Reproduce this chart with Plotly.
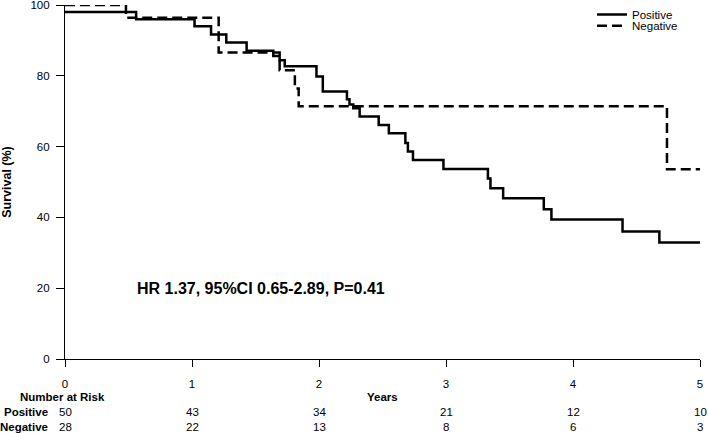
import plotly.graph_objects as go

# Kaplan-Meier step data (years, survival %)
pos_time = [0, 0.56, 1.02, 1.15, 1.27, 1.43, 1.64, 1.69, 1.73, 1.98, 2.03, 2.22, 2.24, 2.27,
            2.32, 2.47, 2.55, 2.68, 2.70, 2.74, 2.98, 3.33, 3.35, 3.45, 3.77, 3.83, 4.39, 4.68, 5.0]
pos_surv = [98, 96, 94, 91.7, 89.4, 87.1, 85.6, 84.4, 82.7, 79.8, 75.6, 73.4, 71.9, 70.8,
            68.5, 66.1, 63.8, 61.0, 58.6, 56.2, 53.7, 51.0, 48.2, 45.4, 42.3, 39.4, 36.0, 32.9, 32.9]

neg_time = [0, 0.48, 1.21, 1.69, 1.81, 1.84, 4.74, 5.0]
neg_surv = [100, 96.4, 86.6, 81.6, 76.4, 71.4, 53.6, 53.6]

risk_years = [0, 1, 2, 3, 4, 5]
risk_pos = [50, 43, 34, 21, 12, 10]
risk_neg = [28, 22, 13, 8, 6, 3]

x_ticks = [0, 1, 2, 3, 4, 5]
y_ticks = [0, 20, 40, 60, 80, 100]

hr_text = "HR 1.37, 95%CI 0.65-2.89, P=0.41"

FONT = "Liberation Sans, Arial, Helvetica, sans-serif"

fig = go.Figure()
fig.add_trace(go.Scatter(x=pos_time, y=pos_surv, mode="lines", name="Positive", legend="legend",
                         line=dict(color="black", width=2.5, shape="hv"), cliponaxis=False))
fig.add_trace(go.Scatter(x=neg_time, y=neg_surv, mode="lines", name="Negative", legend="legend2",
                         line=dict(color="black", width=2.5, shape="hv", dash="10px,5px"),
                         cliponaxis=False))

annotations = [
    dict(x=0.55, y=20, xref="x", yref="y", text="<b>" + hr_text + "</b>", showarrow=False,
         xanchor="left", yanchor="middle", font=dict(size=16, color="black", family=FONT)),
    dict(x=-0.074, y=-0.107, xref="paper", yref="paper", text="<b>Number at Risk</b>",
         showarrow=False, xanchor="left", yanchor="middle", font=dict(size=11.5, color="black", family=FONT)),
    dict(x=2.5, y=-0.107, xref="x", yref="paper", text="<b>Years</b>", showarrow=False,
         xanchor="center", yanchor="middle", font=dict(size=11.5, color="black", family=FONT)),
    dict(x=-0.0236, y=-0.150, xref="paper", yref="paper", text="<b>Positive</b>", showarrow=False,
         xanchor="right", yanchor="middle", font=dict(size=11.5, color="black", family=FONT)),
    dict(x=-0.0236, y=-0.192, xref="paper", yref="paper", text="<b>Negative</b>", showarrow=False,
         xanchor="right", yanchor="middle", font=dict(size=11.5, color="black", family=FONT)),
]
for yr, p, n in zip(risk_years, risk_pos, risk_neg):
    annotations.append(dict(x=yr, y=-0.150, xref="x", yref="paper", text=str(p), showarrow=False,
                            xanchor="center", yanchor="middle",
                            font=dict(size=11.5, color="black", family=FONT)))
    annotations.append(dict(x=yr, y=-0.192, xref="x", yref="paper", text=str(n), showarrow=False,
                            xanchor="center", yanchor="middle",
                            font=dict(size=11.5, color="black", family=FONT)))

legend_common = dict(xanchor="left", yanchor="top", yref="container", bgcolor="rgba(0,0,0,0)",
                     font=dict(size=11.5, family=FONT), itemwidth=30)

fig.update_layout(
    width=708, height=433,
    margin=dict(l=65, r=8, t=5, b=74, autoexpand=False),
    paper_bgcolor="white", plot_bgcolor="white",
    font=dict(family=FONT, color="black", size=11.5),
    showlegend=True,
    legend=dict(x=0.830, y=1.006, **legend_common),
    legend2=dict(x=0.830, y=0.974, **legend_common),
    annotations=annotations,
    xaxis=dict(range=[0, 5], tickvals=x_ticks, showgrid=False, zeroline=False, automargin=False,
               showline=True, linecolor="black", linewidth=1.2, ticks="outside",
               ticklen=7, tickcolor="black", tickwidth=1.2, ticklabelstandoff=7,
               ticklabeloverflow="allow", tickfont=dict(size=11.5)),
    yaxis=dict(range=[0, 100], tickvals=y_ticks, showgrid=False, zeroline=False, automargin=False,
               showline=True, linecolor="black", linewidth=1.2, ticks="outside",
               ticklen=8, tickcolor="black", tickwidth=1.2, ticklabelstandoff=4,
               ticklabeloverflow="allow", tickfont=dict(size=11.5),
               title=dict(text="<b>Survival (%)</b>", standoff=18, font=dict(size=12.5))),
)

fig.write_html("out.html", config={"displayModeBar": False},
               post_script="document.body.style.margin='0px';")
